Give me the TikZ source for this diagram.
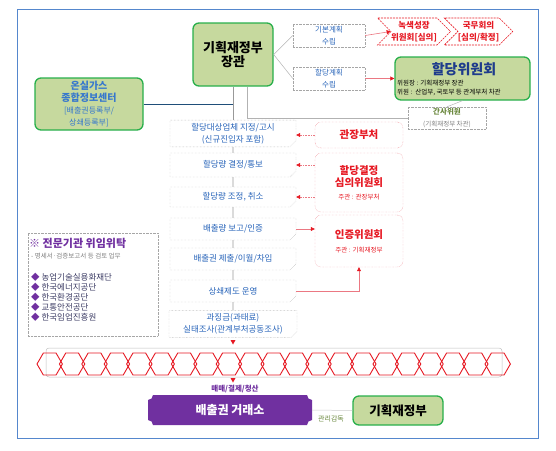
\documentclass[tikz,border=0pt]{standalone}
\usepackage{fontspec}
\setmainfont{Noto Sans CJK KR}
\usetikzlibrary{shapes.misc,shapes.symbols,calc,arrows.meta}
\definecolor{cgreen}{RGB}{40,175,75}
\definecolor{cgfill}{RGB}{198,217,158}
\definecolor{cblue}{RGB}{40,100,185}
\definecolor{cmblue}{RGB}{55,120,205}
\definecolor{cdblue}{RGB}{30,60,140}
\definecolor{cline}{RGB}{31,78,121}
\definecolor{cred}{RGB}{230,25,35}
\definecolor{cpink}{RGB}{235,120,130}
\definecolor{cpurple}{RGB}{112,48,160}
\definecolor{cframe}{RGB}{85,135,205}
\definecolor{colive}{RGB}{105,135,60}
\newcommand{\fsz}[2]{\fontsize{#1}{#2}\selectfont}
\tikzset{
  greenbox/.style={draw=cgreen, line width=1.3pt, fill=cgfill, rounded corners=6pt, inner sep=0pt, align=center},
  dotbox/.style={draw=gray!70, densely dotted, inner sep=0pt, align=center, text=cblue},
  procbox/.style={dotbox, chamfered rectangle, chamfered rectangle corners=south east, chamfered rectangle xsep=3pt, chamfered rectangle ysep=3pt, minimum width=126pt},
  redbox/.style={draw=cpink, densely dotted, rounded corners=6pt, inner sep=0pt, align=center, text=cred, minimum width=88pt},
  redarr/.style={draw=cpink, densely dotted, line width=0.6pt, -{Triangle[length=4pt,width=4pt,color=cred]}},
  redarrs/.style={draw=cpink, line width=0.6pt, -{Triangle[length=4pt,width=4pt,color=cred]}},
  chev/.style={signal, signal to=east, signal from=west, draw=cred, dash pattern=on 2pt off 1pt, line width=0.6pt, inner sep=0pt, text=cred, align=center, minimum height=27pt},
  spine/.style={draw=gray!80, line width=0.6pt},
  grayline/.style={draw=gray!60, line width=0.5pt}
}
\begin{document}
\begin{tikzpicture}[x=1pt,y=-1pt]
\useasboundingbox (0,0) rectangle (556,450);
\draw[cframe, line width=0.7pt] (17,9) rectangle (538,438);

% top
\node[greenbox, minimum width=80pt, minimum height=63pt] (jg) at (233,54.5) {\fsz{13}{17}\bfseries 기획재정부\\\fsz{13}{17}\bfseries 장관};
\node[dotbox, minimum width=72pt, minimum height=23pt] (kb) at (329,35.5) {\fsz{7.5}{9}기본계획\\\fsz{7.5}{9}수립};
\node[dotbox, minimum width=72pt, minimum height=23pt] (hp) at (329,78.5) {\fsz{7.5}{9}할당계획\\\fsz{7.5}{9}수립};
\node[chev, minimum width=72pt] (ch1) at (414,31.5) {\fsz{8.5}{10}\bfseries 녹색성장\\\fsz{8.5}{10}\bfseries 위원회[심의]};
\node[chev, minimum width=67pt] (ch2) at (478.5,31.5) {\fsz{8.5}{10}\bfseries 국무회의\\\fsz{8.5}{10}\bfseries [심의/확정]};
\node[greenbox, minimum width=135pt, minimum height=43pt] (hw) at (462.5,78.5) {};
\node[text=cdblue, inner sep=0pt] (hwt) at (464,69.5) {\fsz{14}{16}\bfseries 할당위원회};
\node[anchor=west, inner sep=0pt] (hw1) at (397,83) {\fsz{6.5}{8}위원장 : 기획재정부 장관};
\node[anchor=west, inner sep=0pt] (hw2) at (397,92) {\fsz{6.5}{8}위원 :\ \ 산업부, 국토부 등 관계부처 차관};
\node[dotbox, minimum width=78pt, minimum height=22pt] (gs) at (447,118) {{\fsz{7.5}{9}\bfseries\color{colive}간사위원}\\{\fsz{6.5}{8}\color{gray}(기획재정부 차관)}};

\draw[grayline] (jg.east) -- (kb.west);
\draw[grayline] (jg.east) -- (hp.west);
\draw[redarrs] (kb.east) -- (ch1.west);
\draw[redarrs] (hp.east) -- (hw.west);
\draw[grayline] (hw.south) -- (gs.north);
\draw[grayline] ($(jg.south)+(14,0)$) |- (gs.west);

% left info box
\node[greenbox, minimum width=108pt, minimum height=52pt, text=cmblue] (og) at (89,104) {\fsz{10}{12}\bfseries 온실가스\\\fsz{10}{12}\bfseries 종합정보센터\\\fsz{8}{9.5}[배출권등록부/\\\fsz{8}{9.5}상쇄등록부]};

% process boxes
\node[procbox, minimum height=23pt] (b1) at (233,133.5) {\fsz{8.5}{10}할당대상업체 지정/고시\\\fsz{8.5}{10}(신규진입자 포함)};
\node[procbox, minimum height=24pt] (b2) at (233,165) {\fsz{8.5}{10}할당량 결정/통보};
\node[procbox, minimum height=20pt] (b3) at (233,197) {\fsz{8.5}{10}할당량 조정, 취소};
\node[procbox, minimum height=22pt] (b4) at (233,229) {\fsz{8.5}{10}배출량 보고/인증};
\node[procbox, minimum height=22pt] (b5) at (233,259) {\fsz{8.5}{10}배출권 제출/이월/차입};
\node[procbox, minimum height=22pt] (b6) at (233,291) {\fsz{8.5}{10}상쇄제도 운영};
\node[procbox, minimum height=22pt, minimum width=128pt] (b7) at (233,324) {\fsz{8.5}{10}과징금(과태료)\\\fsz{8.5}{10}실태조사(관계부처공동조사)};

\draw[spine] (jg) -- (b1);
\draw[spine] (b1) -- (b2);
\draw[spine] (b2) -- (b3);
\draw[spine] (b3) -- (b4);
\draw[spine] (b4) -- (b5);
\draw[spine] (b5) -- (b6);
\draw[spine] (b6) -- (b7);
\draw[cline, line width=0.9pt] (og.east) -- (og.east -| jg.south);

% red side boxes
\node[redbox, minimum height=26pt] (rb1) at (359,135) {\fsz{10.5}{12}\bfseries 관장부처};
\node[redbox, minimum height=59pt] (rb2) at (359,182.5) {\fsz{10.5}{13}\bfseries 할당결정\\\fsz{10.5}{13}\bfseries 심의위원회\\[1pt]\fsz{6.5}{8}주관 : 관장부처};
\node[redbox, minimum height=52pt] (rb3) at (359,241) {\fsz{10.5}{13}\bfseries 인증위원회\\[2pt]\fsz{6.5}{8}주관 : 기획재정부};

\draw[redarr] (rb1.west) -- (rb1.west -| b1.east);
\draw[redarr] (rb2.west |- b2.east) -- (b2.east);
\draw[redarr] (rb2.west |- b3.east) -- (b3.east);
\draw[redarrs] (b4.east) -- (b4.east -| rb3.west);
\draw[redarrs] (b6.east) -| (rb3.south);

% expert box
\node[dotbox, minimum width=130pt, minimum height=103pt] (ep) at (93,284.5) {};
\node[anchor=west, text=cpurple, inner sep=0pt] (ept) at (29,243) {\fsz{11}{13}\bfseries ※ 전문기관 위임위탁};
\node[anchor=west, text=gray, inner sep=0pt] (eps) at (31,256) {\fsz{6.5}{8}- 명세서·검증보고서 등 검토 업무};
\foreach \t [count=\i] in {농업기술실용화재단, 한국에너지공단, 한국환경공단, 교통안전공단, 한국임업진흥원}
  \node[anchor=west, inner sep=0pt, text={rgb,255:red,60;green,60;blue,100}] (epi\i) at (31,267+10*\i) {\fsz{8.5}{10}{\color{cpurple}◆} \t};

% hexagon band
\draw[gray!50, line width=0.5pt, rounded corners=3pt, fill=white] (46,348) rectangle (502,377);
\foreach \i in {0,...,20}{
  \pgfmathsetmacro{\cx}{49.7+22.4*\i}
  \draw[cred, line width=0.9pt] (\cx+12.7,364) -- (\cx+6.35,353) -- (\cx-6.35,353) -- (\cx-12.7,364) -- (\cx-6.35,375) -- (\cx+6.35,375) -- cycle;
}
\fill[cred] (230.5,340) -- (235.5,340) -- (233,344.5) -- cycle;
\fill[cred] (230.5,378) -- (235.5,378) -- (233,382.5) -- cycle;

% bottom
\node[text=cpurple, inner sep=0pt] (mm) at (235,389) {\fsz{7.5}{9}\bfseries 매매/결제/청산};
\fill[cpurple] (153,395) -- (307,395) .. controls (307,397.76) and (309.24,400) .. (312,400) -- (312,420) .. controls (309.24,420) and (307,422.24) .. (307,425) -- (153,425) .. controls (153,422.24) and (150.76,420) .. (148,420) -- (148,400) .. controls (150.76,400) and (153,397.76) .. (153,395) -- cycle;
\node[minimum width=164pt, minimum height=30pt, inner sep=0pt, text=white] (ex) at (230,410) {\fsz{12}{14}\bfseries 배출권 거래소};
\node[greenbox, minimum width=90pt, minimum height=29pt] (mf) at (398,410.5) {\fsz{12.5}{15}\bfseries 기획재정부};
\draw[gray!40, line width=0.5pt] (ex.east) -- (mf.west);
\node[text=colive, inner sep=0pt] (gg) at (331,418.5) {\fsz{7}{8}관리감독};
\end{tikzpicture}
\end{document}
